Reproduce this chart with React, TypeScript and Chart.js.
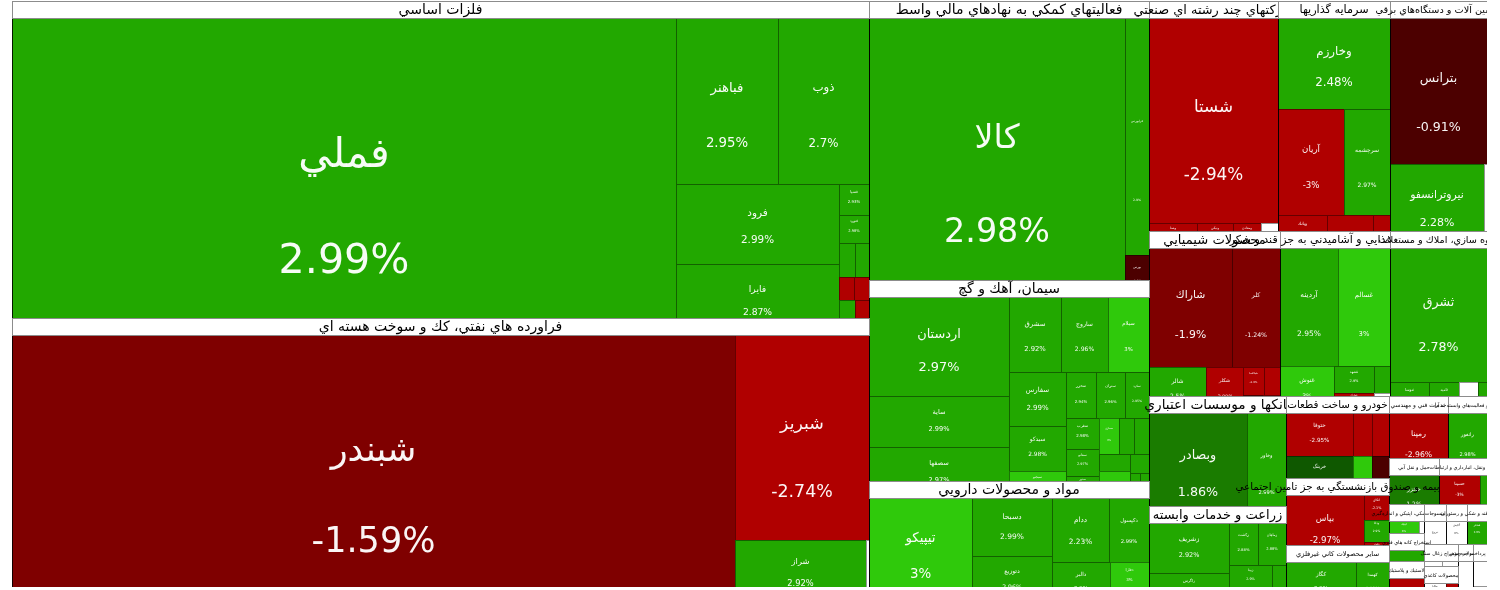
import React, { useEffect, useRef } from 'react';
import { Chart, registerables } from 'chart.js';

Chart.register(...registerables);

// ---------------- DATA ----------------
const sectorNames: string[] = [
  'فلزات اساسي',
  'فراورده هاي نفتي، كك و سوخت هسته اي',
  'فعاليتهاي كمكي به نهادهاي مالي واسط',
  'سيمان، آهك و گچ',
  'مواد و محصولات دارويي',
  'شركتهاي چند رشته اي صنعتي',
  'سرمايه گذاريها',
  'ماشين آلات و دستگاه‌هاي برقي',
  'محصولات شيميايي',
  'محصولات غذايي و آشاميدني به جز قند و شكر',
  'انبوه سازي، املاك و مستغلات',
  'بانكها و موسسات اعتباري',
  'زراعت و خدمات وابسته',
  'خودرو و ساخت قطعات',
  'بيمه و صندوق بازنشستگي به جز تامين اجتماعي',
  'ساير محصولات كاني غيرفلزي',
  'خدمات فني و مهندسي',
  'رايانه و فعاليت‌هاي وابسته به آن',
  'حمل و نقل آبي',
  'حمل ونقل، انبارداري و ارتباطات',
  'ابزار پزشكي، اپتيكي و اندازه‌گيري',
  'استخراج كانه هاي فلزي',
  'لاستيك و پلاستيك',
  'منسوجات',
  'هتل و رستوران',
  'قند و شكر',
  'استخراج زغال سنگ',
  'محصولات كاغذي',
  'محصولات چوبي',
  'دباغي، پرداخت چرم',
];

// number of stocks listed (in order) for each sector
const stockCounts: number[] = [15, 4, 3, 24, 9, 6, 7, 3, 8, 7, 6, 2, 7, 6, 4, 2, 1, 1, 1, 4, 3, 2, 2, 1, 2, 2, 2, 2, 1, 2];

const stockNames: string[] = [
  'فملي', 'فباهنر', 'ذوب', 'فرود', 'فايرا', 'فسپا', 'فنورد', 'فجر', 'فگستر', 'فالوم', 'فسرب', 'فخاس', 'فزر', 'فاراك', 'فنوال',
  'شبندر', 'شبريز', 'شراز', 'شتران',
  'كالا', 'فرابورس', 'بورس',
  'اردستان', 'ساية', 'سصفها', 'سشرق', 'ساروج', 'سيلام', 'سفارس', 'سيدكو', 'سبجنو', 'سخزر', 'ستران', 'سكرد', 'سغرب', 'سفانو', 'سدور', 'سمازن', 'سهگمت', 'سخاش', 'سبهان', 'سقاين', 'سنير', 'سكرما', 'سدشت', 'ساربيل',
  'تيپيكو', 'دسبحا', 'دتوزيع', 'ددام', 'دكپسول', 'دالبر', 'دفارا', 'دزهراوي', 'دشيمي',
  'شستا', 'وصنا', 'ونيكي', 'ومعادن', 'وسپه', 'وتوشه',
  'وخارزم', 'آريان', 'سرچشمه', 'وبانك', 'وبوعلي', 'وسكاب', 'وغدير',
  'بترانس', 'نيروترانسفو', 'بالاس',
  'شاراك', 'كلر', 'شالر', 'شكلر', 'شپاكسا', 'شفن', 'شسينا', 'شنفت',
  'آردينه', 'غسالم', 'غنوش', 'غشهد', 'غمارگ', 'غپينو', 'غبشهر',
  'ثشرق', 'ثنوسا', 'ثاميد', 'ثعمرا', 'ثبهساز', 'ثفارس',
  'وبصادر', 'وخاور',
  'زشريف', 'زاگرس', 'زكشت', 'زماهان', 'زبينا', 'زفجر', 'زشگزا',
  'ختوقا', 'خرينگ', 'خمهر', 'خكار', 'خفنر', 'خزر',
  'بپاس', 'اتكاي', 'ودانا', 'وكوثر',
  'كگاز', 'كهمدا',
  'رمپنا',
  'رانفور',
  'حخزر',
  'حسينا', 'حفارس', 'حتايد', 'حآسا',
  'اپتيك', 'خاور', 'فاذر',
  'كگل', 'كروي',
  'پكرمان', 'پلاسك',
  'نبروج',
  'گكيش', 'گدنا',
  'قشكر', 'قثابت',
  'كزغال', 'كطبس',
  'چكاپا', 'چافست',
  'چوكا',
  'بكاب', 'بكهنوج',
];

// relative weight (market value) of each stock
const stockWeights: number[] = [
  210488, 16932, 15106, 12960, 11502, 930, 870, 560, 460, 360, 330, 310, 270, 250, 240,
  194487, 27470, 8384, 192,
  71424, 5688, 1008,
  13860, 7150, 7140, 3900, 3525, 3080, 3050, 2565, 1539, 1410, 1316, 1128, 1008, 900, 750, 700, 560, 525, 520, 450, 400, 350, 250, 214,
  10918, 4661, 3800, 3700, 2535, 2419, 1230, 217, 200,
  26316, 1200, 900, 700, 300, 125,
  10200, 7000, 4922, 1617, 825, 693, 561,
  14162, 7896, 252,
  9840, 5760, 2610, 1710, 600, 450, 350, 295,
  6844, 6136, 2538, 1080, 800, 432, 320,
  12998, 1178, 930, 420, 220, 200,
  10780, 4290,
  4080, 2480, 1230, 1200, 1080, 574, 533,
  2948, 2613, 836, 748, 741, 663,
  5226, 625, 546, 504,
  2940, 1386,
  3660,
  2400,
  2300,
  1360, 510, 289, 47,
  600, 250, 150,
  550, 400,
  500, 400,
  900,
  500, 350,
  450, 350,
  400, 350,
  450, 250,
  650,
  350, 250,
];

// daily change in percent
const stockChanges: number[] = [
  2.99, 2.95, 2.7, 2.99, 2.87, 2.93, 2.98, 2.9, 2.95, -2.8, -2.9, 2.9, -2.7, -1.2, 0,
  -1.59, -2.74, 2.92, 0,
  2.98, 2.9, -0.6,
  2.97, 2.99, 2.97, 2.92, 2.96, 3, 2.99, 2.98, 3, 2.94, 2.96, 2.95, 2.98, 2.97, 2.9, 3, 2.9, 2.95, 2.93, 3, 2.9, 2.98, 2.9, 2.9,
  3, 2.99, 2.96, 2.23, 2.99, 2.9, 3, 2.9, 2.95,
  -2.94, -2.9, -2.95, -2.8, 0, -2.9,
  2.48, -3, 2.97, -2.9, -2.9, -0.8, -2.5,
  -0.91, 2.28, 0,
  -1.9, -1.24, 2.5, -2.99, -2.9, -2.95, -1.5, -2.9,
  2.95, 3, 3, 2.9, -2.9, 2.9, 0,
  2.78, 2.9, 2.95, 0, 2.9, 2.9,
  1.86, 2.99,
  2.92, 2.9, 2.88, 2.88, 2.9, 2.9, 2.9,
  -2.95, 0.6, -2.9, -2.9, 3, -0.8,
  -2.97, -2.1, 2.9, -2.9,
  2.9, 2.98,
  -2.96,
  2.98,
  1.2,
  -3, -2.9, 2.9, 0,
  3, 2.9, 0,
  2.95, 0,
  -2.98, -0.5,
  0,
  0, 0,
  2.9, 0,
  0, 0,
  0, -2.9,
  0,
  0, 0,
];

// ---------------- LAYOUT CONSTANTS ----------------
const LAYOUT_W = 1475;
const LAYOUT_H = 586;
const VISIBLE_H = 569;
const HEADER_PX = 17;
const PHI = (1 + Math.sqrt(5)) / 2;
const FONT = "'DejaVu Sans', sans-serif";

type Rect = { x0: number; y0: number; x1: number; y1: number };

// d3-style squarified treemap tiling (golden ratio)
function squarify(values: number[], box: Rect): Rect[] {
  const out: Rect[] = new Array(values.length);
  let { x0, y0, x1, y1 } = box;
  const n = values.length;
  let value = values.reduce((a, b) => a + b, 0);
  let i0 = 0;
  let i1 = 0;
  while (i0 < n) {
    const dx = x1 - x0;
    const dy = y1 - y0;
    let sumValue = 0;
    do {
      sumValue = values[i1++];
    } while (!sumValue && i1 < n);
    let minValue = sumValue;
    let maxValue = sumValue;
    const alpha = Math.max(dy / dx, dx / dy) / (value * PHI);
    let beta = sumValue * sumValue * alpha;
    let minRatio = Math.max(maxValue / beta, beta / minValue);
    for (; i1 < n; ++i1) {
      const nv = values[i1];
      sumValue += nv;
      if (nv < minValue) minValue = nv;
      if (nv > maxValue) maxValue = nv;
      beta = sumValue * sumValue * alpha;
      const newRatio = Math.max(maxValue / beta, beta / minValue);
      if (newRatio > minRatio) {
        sumValue -= nv;
        break;
      }
      minRatio = newRatio;
    }
    if (dx < dy) {
      const ny = dy ? y0 + (dy * sumValue) / value : y1;
      const k = sumValue ? (x1 - x0) / sumValue : 0;
      let x = x0;
      for (let i = i0; i < i1; i++) {
        const w = values[i] * k;
        out[i] = { x0: x, y0, x1: x + w, y1: ny };
        x += w;
      }
      y0 = ny;
    } else {
      const nx = dx ? x0 + (dx * sumValue) / value : x1;
      const k = sumValue ? (y1 - y0) / sumValue : 0;
      let y = y0;
      for (let i = i0; i < i1; i++) {
        const h = values[i] * k;
        out[i] = { x0, y0: y, x1: nx, y1: y + h };
        y += h;
      }
      x0 = nx;
    }
    value -= sumValue;
    i0 = i1;
  }
  return out;
}

function colorFor(ch: number): string {
  if (ch === 0) return '#ffffff';
  if (ch >= 3) return '#2fc90b';
  if (ch >= 2) return '#22a800';
  if (ch >= 1) return '#1a7c00';
  if (ch > 0) return '#0f5800';
  if (ch > -1) return '#4c0000';
  if (ch > -2) return '#7f0000';
  return '#b00000';
}

function fmtPct(v: number): string {
  return `${v}%`;
}

function buildLayout() {
  const sectors = sectorNames.map((name, i) => ({ name, index: i, stocks: [] as number[], total: 0, rect: null as any }));
  let j = 0;
  stockCounts.forEach((cnt, si) => {
    for (let k = 0; k < cnt; k++, j++) {
      if (j >= stockNames.length) break;
      sectors[si].stocks.push(j);
      sectors[si].total += stockWeights[j];
    }
  });
  const ordered = sectors.filter((s) => s.total > 0).sort((a, b) => b.total - a.total);
  const rects = squarify(ordered.map((s) => s.total), { x0: 0, y0: 0, x1: LAYOUT_W, y1: LAYOUT_H });
  const cells: { j: number; rect: Rect }[] = [];
  ordered.forEach((s, k) => {
    s.rect = rects[k];
    const idx = s.stocks.slice().sort((a, b) => stockWeights[b] - stockWeights[a]);
    const r = squarify(idx.map((q) => stockWeights[q]), s.rect);
    idx.forEach((q, m) => cells.push({ j: q, rect: r[m] }));
  });
  return { ordered, cells };
}

const treemapPlugin = {
  id: 'treemapDraw',
  afterDatasetsDraw(chart: any) {
    const { ctx, chartArea } = chart;
    const xs = chart.scales.x;
    const ys = chart.scales.y;
    const X = (v: number) => Math.round(xs.getPixelForValue(v));
    const Y = (v: number) => Math.round(ys.getPixelForValue(v));
    const { ordered, cells } = buildLayout();

    ctx.save();
    ctx.beginPath();
    ctx.rect(chartArea.left, 0, chartArea.right - chartArea.left, chartArea.bottom);
    ctx.clip();

    // cells
    for (const c of cells) {
      const l = X(c.rect.x0);
      const r = X(c.rect.x1);
      const t = Y(c.rect.y0);
      const b = Y(c.rect.y1);
      const w = r - l;
      const h = b - t;
      if (w <= 0 || h <= 0) continue;
      const ch = stockChanges[c.j];
      ctx.fillStyle = colorFor(ch);
      ctx.fillRect(l, t, w, h);
      ctx.strokeStyle = 'rgba(0,0,0,0.42)';
      ctx.lineWidth = 1;
      ctx.strokeRect(l + 0.5, t + 0.5, w, h);

      const fs = Math.min(w, h) * 0.13;
      if (fs >= 2.5) {
        ctx.save();
        ctx.beginPath();
        ctx.rect(l, t, w, h);
        ctx.clip();
        ctx.fillStyle = ch === 0 ? '#333333' : 'rgba(255,255,255,0.96)';
        ctx.textAlign = 'center';
        ctx.textBaseline = 'middle';
        ctx.font = `${fs.toFixed(1)}px ${FONT}`;
        const g = Math.max(1, Math.min(6, 6 - (h - 100) * 0.05));
        ctx.direction = 'rtl';
        ctx.fillText(stockNames[c.j], (l + r) / 2, t + h * 0.44 - g);
        ctx.direction = 'ltr';
        ctx.fillText(fmtPct(ch), (l + r) / 2, t + h * 0.775 - g);
        ctx.restore();
      }
    }

    // sector outlines
    for (const s of ordered) {
      const l = X(s.rect.x0);
      const r = X(s.rect.x1);
      const t = Y(s.rect.y0);
      const b = Y(s.rect.y1);
      ctx.strokeStyle = 'rgba(0,0,0,0.75)';
      ctx.lineWidth = 1;
      ctx.strokeRect(l + 0.5, t + 0.5, r - l, b - t);
    }

    // sector headers (drawn just above each sector)
    for (const s of ordered) {
      const l = X(s.rect.x0);
      const r = X(s.rect.x1);
      const b = Y(s.rect.y0);
      const t = b - HEADER_PX;
      const hgt = Y(s.rect.y1) - b;
      const wid = r - l;
      ctx.fillStyle = '#ffffff';
      ctx.fillRect(l, t, wid, HEADER_PX);
      ctx.strokeStyle = '#8c8c8c';
      ctx.strokeRect(l + 0.5, t + 0.5, wid, HEADER_PX);
      const hfs = Math.max(5, Math.min(14, hgt * 0.16, wid * 0.1));
      ctx.fillStyle = '#000000';
      ctx.font = `${hfs.toFixed(1)}px ${FONT}`;
      ctx.textAlign = 'center';
      ctx.textBaseline = 'middle';
      ctx.direction = 'rtl';
      ctx.fillText(s.name, (l + r) / 2, t + HEADER_PX / 2 + 1);
    }
    ctx.restore();
  },
};

export default function App() {
  const canvasRef = useRef<HTMLCanvasElement | null>(null);

  useEffect(() => {
    const canvas = canvasRef.current;
    if (!canvas) return;
    const chart = new Chart(canvas, {
      type: 'scatter',
      data: { datasets: [{ data: [] }] },
      options: {
        animation: false,
        responsive: true,
        maintainAspectRatio: false,
        layout: { padding: { left: 12, right: 13, top: HEADER_PX + 1, bottom: 3 } },
        scales: {
          x: { type: 'linear', min: 0, max: LAYOUT_W, display: false },
          y: { type: 'linear', min: 0, max: VISIBLE_H, reverse: true, display: false },
        },
        plugins: { legend: { display: false }, tooltip: { enabled: false } },
      },
      plugins: [treemapPlugin],
    } as any);
    return () => chart.destroy();
  }, []);

  return (
    <div style={{ position: 'fixed', left: 0, top: 0, width: 1500, height: 590, background: '#ffffff' }}>
      <canvas ref={canvasRef} />
    </div>
  );
}
